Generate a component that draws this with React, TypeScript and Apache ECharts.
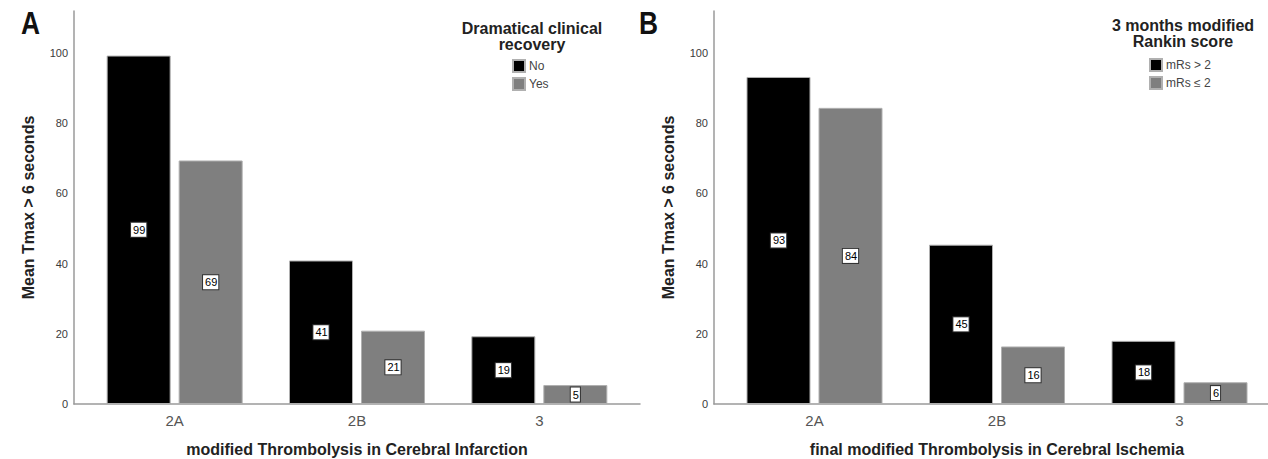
import React, { useEffect, useRef } from "react";
import * as echarts from "echarts";

const categories = ["2A", "2B", "3"];
const panelANo = [99.3, 40.9, 19.3];
const panelAYes = [69.4, 20.9, 5.4];
const panelBHigh = [93.2, 45.4, 18.0];
const panelBLow = [84.4, 16.4, 6.2];
const yMax = 112;
const yInterval = 20;

const FONT = '"Liberation Sans", Arial, sans-serif';
const BLACK = "#000000";
const GRAY = "#7f7f7f";
const AXIS = "#9a9a9a";

export default function App() {
  const ref = useRef<HTMLDivElement>(null);
  useEffect(() => {
    if (!ref.current) return;
    const chart = echarts.init(ref.current, null, { renderer: "svg" });

    const frameX = (gridIndex: number) => ({
      type: "value",
      gridIndex,
      min: 0,
      max: 1,
      axisLine: { show: true, lineStyle: { color: AXIS, width: 1.5 } },
      axisTick: { show: false },
      axisLabel: { show: false },
      splitLine: { show: false },
    });
    const frameY = (gridIndex: number) => ({
      type: "value",
      gridIndex,
      min: 0,
      max: yMax,
      interval: yInterval,
      axisLine: { show: true, lineStyle: { color: AXIS, width: 1.5 } },
      axisTick: { show: false },
      axisLabel: {
        fontSize: 11,
        color: "#3a3a3a",
        fontFamily: FONT,
        margin: 6,
        formatter: (v: number) => (v % yInterval === 0 ? String(v) : ""),
      },
      splitLine: { show: false },
      name: "Mean Tmax > 6 seconds",
      nameLocation: "middle",
      nameGap: 38,
      nameTextStyle: { fontSize: 16, fontWeight: "bold", color: "#222", fontFamily: FONT },
    });
    const dataX = (gridIndex: number, name: string) => ({
      type: "category",
      gridIndex,
      data: categories,
      axisLine: { show: false },
      axisTick: { show: false },
      axisLabel: { fontSize: 15, color: "#555", fontFamily: FONT, margin: 9 },
      name,
      nameLocation: "middle",
      nameGap: 37,
      nameTextStyle: { fontSize: 16, fontWeight: "bold", color: "#222", fontFamily: FONT },
    });
    const dataY = (gridIndex: number) => ({
      type: "value",
      gridIndex,
      min: 0,
      max: yMax,
      show: false,
    });
    const label = {
      show: true,
      position: "inside",
      formatter: (p: any) => String(Math.round(p.value)),
      color: "#000",
      fontSize: 11,
      fontFamily: FONT,
      backgroundColor: "#fff",
      borderColor: "#333",
      borderWidth: 1,
      padding: [2, 1, 1, 2],
    };
    const bar = (name: string, data: number[], color: string, axisIndex: number) => ({
      type: "bar",
      name,
      data,
      xAxisIndex: axisIndex,
      yAxisIndex: axisIndex,
      barWidth: 64,
      barGap: "12.5%",
      itemStyle: { color, borderColor: "#b0b0b0", borderWidth: 1 },
      label,
    });
    const g = (left: number, width: number) => ({
      left,
      width,
      top: 11,
      bottom: 55,
      containLabel: false,
      outerBoundsMode: "none",
    });

    chart.setOption({
      animation: false,
      backgroundColor: "#fff",
      grid: [g(74, 566), g(83.5, 547), g(714, 554), g(723.25, 547.5)],
      xAxis: [
        frameX(0),
        dataX(1, "modified Thrombolysis in Cerebral Infarction"),
        frameX(2),
        dataX(3, "final modified Thrombolysis in Cerebral Ischemia"),
      ],
      yAxis: [frameY(0), dataY(1), frameY(2), dataY(3)],
      legend: [
        {
          data: ["No", "Yes"],
          left: 512,
          top: 59,
          orient: "vertical",
          icon: "rect",
          itemWidth: 12,
          itemHeight: 12,
          itemGap: 4,
          padding: 0,
          textStyle: { fontSize: 12, color: "#444", fontFamily: FONT, padding: [0, 0, 0, -1] },
        },
        {
          data: ["mRs > 2", "mRs ≤ 2"],
          left: 1149,
          top: 58,
          orient: "vertical",
          icon: "rect",
          itemWidth: 12,
          itemHeight: 12,
          itemGap: 4,
          padding: 0,
          textStyle: { fontSize: 12, color: "#444", fontFamily: FONT, padding: [0, 0, 0, -1] },
        },
      ],
      graphic: [
        {
          type: "text",
          x: 21,
          y: 8,
          scaleX: 0.85,
          style: { text: "A", font: `bold 31px ${FONT}`, fill: "#111" },
        },
        {
          type: "text",
          x: 639,
          y: 8,
          scaleX: 0.85,
          style: { text: "B", font: `bold 31px ${FONT}`, fill: "#111" },
        },
        {
          type: "text",
          x: 532,
          y: 20,
          style: {
            text: "Dramatical clinical\nrecovery",
            textAlign: "center",
            font: `bold 16px ${FONT}`,
            lineHeight: 16.5,
            fill: "#222",
          },
        },
        {
          type: "text",
          x: 1183,
          y: 17,
          style: {
            text: "3 months modified\nRankin score",
            textAlign: "center",
            font: `bold 16px ${FONT}`,
            lineHeight: 16.5,
            fill: "#222",
          },
        },
      ],
      series: [
        bar("No", panelANo, BLACK, 1),
        bar("Yes", panelAYes, GRAY, 1),
        bar("mRs > 2", panelBHigh, BLACK, 3),
        bar("mRs ≤ 2", panelBLow, GRAY, 3),
      ],
    });
    return () => chart.dispose();
  }, []);
  return (
    <div
      ref={ref}
      style={{ position: "absolute", left: 0, top: 0, width: 1268, height: 459, background: "#fff" }}
    />
  );
}
